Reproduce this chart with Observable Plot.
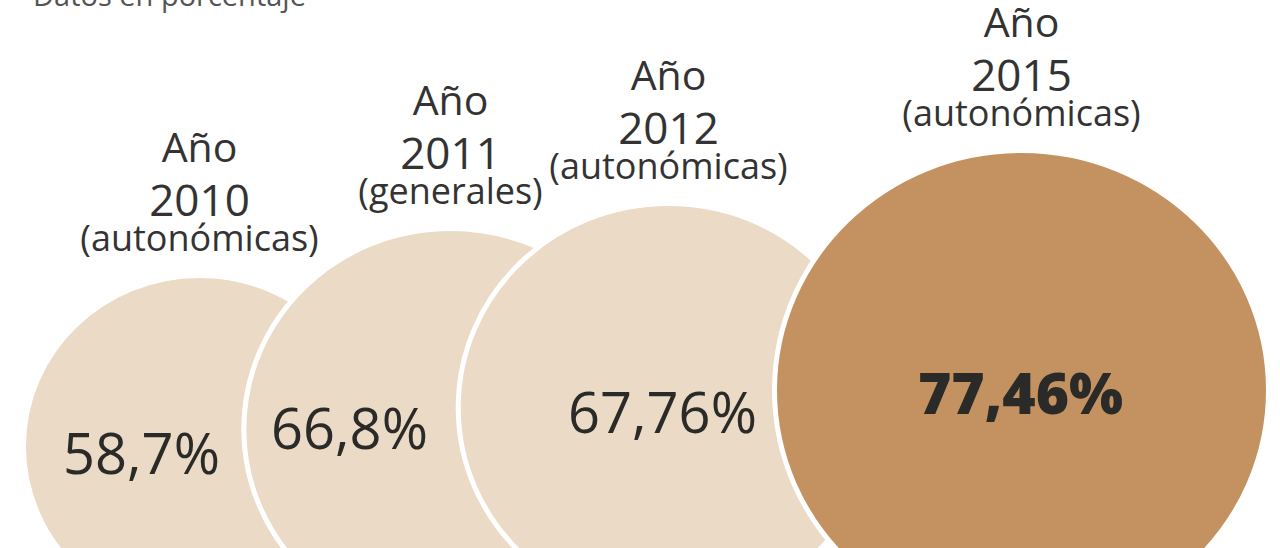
<!DOCTYPE html>
<html><head><meta charset="utf-8">
<script src="https://cdn.jsdelivr.net/npm/d3@7"></script>
<script src="https://cdn.jsdelivr.net/npm/@observablehq/plot@0.6"></script>
<style>
html,body{margin:0;padding:0;background:#fff;overflow:hidden;width:1280px;height:548px}
#wrap{position:relative;width:1280px;height:548px;overflow:hidden}
#sub{position:absolute;left:33px;top:-19px;font-family:"Open Sans",sans-serif;font-size:29px;color:#555;line-height:28px;white-space:nowrap}
#chart{position:absolute;left:0;top:0}
</style></head><body>
<div id="wrap"><div id="chart"></div><div id="sub">Datos en porcentaje</div></div>
<script>
const years = [2010, 2011, 2012, 2015];
const values = [58.7, 66.8, 67.76, 77.46];
const valueLabels = ["58,7%", "66,8%", "67,76%", "77,46%"];
const electionTypes = ["(autonómicas)", "(generales)", "(autonómicas)", "(autonómicas)"];
const yearLabels = ["2010", "2011", "2012", "2015"];

const data = years.map((year, i) => ({year, value: values[i], label: valueLabels[i], type: electionTypes[i], yearLabel: yearLabels[i]}));

// ellipse symbol anchored at its top point (image is slightly stretched horizontally)
const squash = 1.03;
const K = 0.5522847498;
const ellipseTop = {
  draw(ctx, size) {
    const rx = Math.sqrt(size / Math.PI), ry = rx / squash, cy = ry;
    ctx.moveTo(rx, cy);
    ctx.bezierCurveTo(rx, cy + K * ry, K * rx, cy + ry, 0, cy + ry);
    ctx.bezierCurveTo(-K * rx, cy + ry, -rx, cy + K * ry, -rx, cy);
    ctx.bezierCurveTo(-rx, cy - K * ry, -K * rx, cy - ry, 0, cy - ry);
    ctx.bezierCurveTo(K * rx, cy - ry, rx, cy - K * ry, rx, cy);
    ctx.closePath();
  }
};

const labelFont = '"Open Sans", sans-serif';
const valueFont = '"Open Sans", sans-serif';
const ink = "#2a2a28";

const valueDx = [-58, -101, -6, -1];
const valueDy = [198, 220, 229, 263];

const valueMarks = data.map((d, i) => Plot.text([d], {
  x: "year", y: "value", text: "label",
  dx: valueDx[i], dy: valueDy[i], lineAnchor: "bottom",
  fontFamily: valueFont, fontSize: i === 3 ? 57 : 56, fontWeight: i === 3 ? 800 : 400,
  fill: ink
}));

const chart = Plot.plot({
  width: 1280, height: 548,
  margin: 0,
  style: {background: "transparent", overflow: "visible"},
  x: {type: "linear", domain: years, range: [199, 450, 668, 1021], axis: null},
  y: {type: "linear", domain: values, range: [275, 228, 203, 150], axis: null},
  r: {type: "linear", domain: [58.7, 77.46], range: [176, 247]},
  color: {type: "ordinal", domain: years, range: ["#eadac6", "#eadac6", "#eadac6", "#c49260"]},
  marks: [
    Plot.dot(data, {
      x: "year", y: "value", r: "value", symbol: ellipseTop,
      fill: "year", stroke: "#ffffff", strokeWidth: 5,
      sort: (a, b) => a.year - b.year
    }),
    Plot.text(data, {x: "year", y: "value", text: "type", dy: -25, lineAnchor: "bottom", ariaLabel: "head-type",
      fontFamily: labelFont, fontSize: 36, fill: "#333"}),
    Plot.text(data, {x: "year", y: "value", text: "yearLabel", dy: -60, lineAnchor: "bottom", ariaLabel: "head-year",
      fontFamily: labelFont, fontSize: 44, fill: "#333"}),
    Plot.text(data, {x: "year", y: "value", text: () => "Año", dy: -114, lineAnchor: "bottom", ariaLabel: "head-ano",
      fontFamily: labelFont, fontSize: 41, fill: "#333"}),
    ...valueMarks
  ]
});
// narrow the heading type (the original uses a condensed face)
const narrow = {"head-type": 0.84, "head-year": 0.83, "head-ano": 0.9};
for (const [label, k] of Object.entries(narrow)) {
  chart.querySelectorAll(`g[aria-label="${label}"] text`).forEach(t => {
    const tr = t.getAttribute("transform") || "";
    t.setAttribute("transform", `${tr} scale(${k},1)`);
  });
}
document.getElementById("chart").appendChild(chart);
</script>
</body></html>
